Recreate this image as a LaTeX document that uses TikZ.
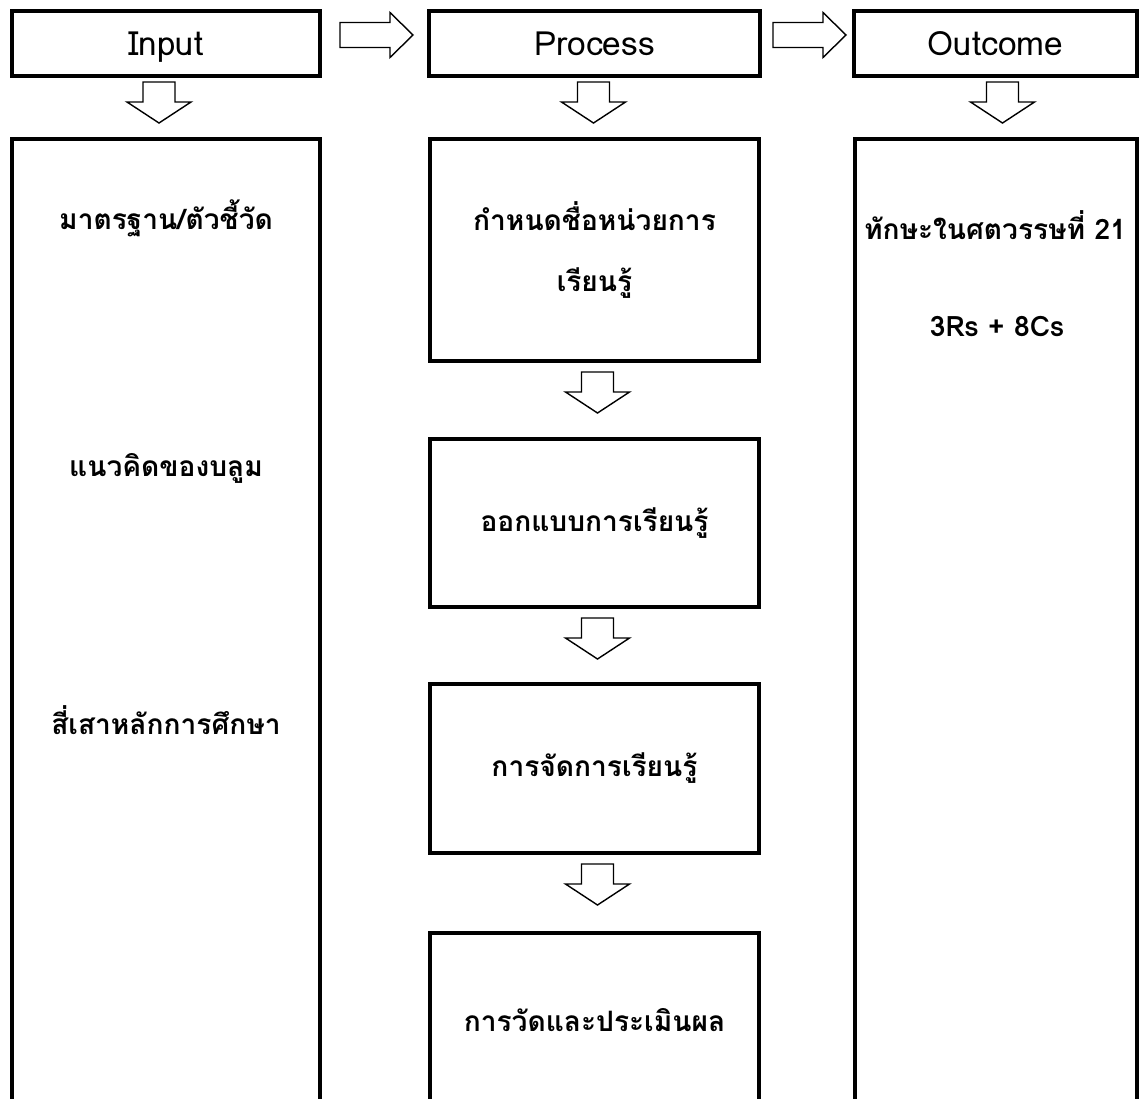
\documentclass[tikz,border=0pt]{standalone}
\usepackage{fontspec}
\setmainfont[Script=Thai]{Loma}
\usetikzlibrary{calc}

\tikzset{
  boxline/.style={draw,line width=2.3pt},
  head/.style={boxline,minimum height=1.3cm,text height=14pt,text depth=0pt,font=\fontsize{19}{22}\selectfont},
  stage/.style={boxline,minimum width=6.58cm,align=center,font=\bfseries\fontsize{16}{35}\selectfont},
  txt/.style={font=\bfseries\fontsize{16}{20}\selectfont},
  pics/downarr/.style={code={
    \draw[line width=0.8pt,fill=white] (-16,0)--(16,0)--(16,20)--(32,20)--(0,41)--(-32,20)--(-16,20)--cycle;}},
  pics/rightarr/.style={code={
    \draw[line width=0.8pt,fill=white] (0,-12.5)--(50,-12.5)--(50,-22.5)--(73,0)--(50,22.5)--(50,12.5)--(0,12.5)--cycle;}}
}

\begin{document}
\begin{tikzpicture}[x=0.02cm,y=-0.02cm]
\path[use as bounding box,clip] (0,0) rectangle (1141,1098);
% header row
\node[head,minimum width=6.16cm] (inph) at (166,43.5) {Input};
\node[head,minimum width=6.62cm] (proch) at (594.5,43.5) {Process};
\node[head,minimum width=5.66cm] (outh) at (995.5,43.5) {Outcome};
\pic at ($(inph.east)+(18,-8.5)$) {rightarr};
\pic at ($(proch.east)+(11,-8.5)$) {rightarr};
\pic at ($(inph.south)+(-7,4)$) {downarr};
\pic at ($(proch.south)+(-1,4)$) {downarr};
\pic at ($(outh.south)+(7,4)$) {downarr};
% input column
\node[boxline,minimum width=6.16cm,minimum height=19.82cm] (inp) at (166,634.5) {};
\node[txt] (std) at (166,218) {มาตรฐาน/ตัวชี้วัด};
\node[txt] (bloom) at (166,468) {แนวคิดของบลูม};
\node[txt] (pillars) at (166,720) {สี่เสาหลักการศึกษา};
% process column
\node[stage,minimum height=4.44cm] (unit) at (594.5,250) {กำหนดชื่อหน่วยการ\\เรียนรู้};
\node[stage,minimum height=3.36cm] (design) at (594.5,523) {ออกแบบการเรียนรู้};
\node[stage,minimum height=3.38cm] (teach) at (594.5,768.5) {การจัดการเรียนรู้};
\node[stage,minimum height=3.48cm] (assess) at (594.5,1020) {การวัดและประเมินผล};
\foreach \b in {unit,design,teach}
  \pic at ($(\b.south)+(3,9)$) {downarr};
% outcome column
\node[boxline,minimum width=5.64cm,minimum height=19.82cm] (outc) at (996,634.5) {};
\node[txt] (skills) at (995,225) {ทักษะในศตวรรษที่ 21};
\node[txt] (rc) at (997,327) {3Rs + 8Cs};
\end{tikzpicture}
\end{document}
